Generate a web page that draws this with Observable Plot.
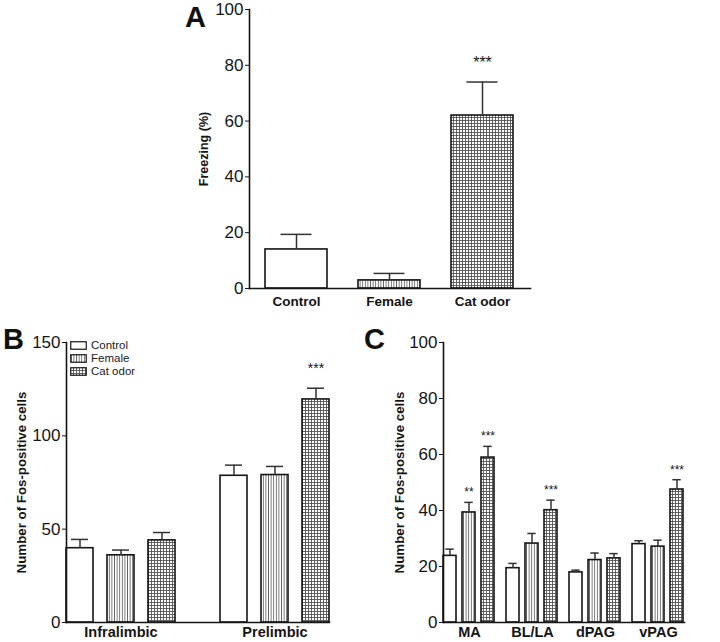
<!DOCTYPE html>
<html><head><meta charset="utf-8">
<script src="https://cdn.jsdelivr.net/npm/d3@7"></script>
<script src="https://cdn.jsdelivr.net/npm/@observablehq/plot@0.6"></script>
<style>
body{margin:0;background:#fff;}
#wrap{position:relative;width:720px;height:642px;overflow:hidden;font-family:"Liberation Sans",Arial,sans-serif;}
.panel{position:absolute;}
.legend{position:absolute;left:70px;top:339px;font-size:11.5px;color:#222;line-height:13px;}
.legend div{display:flex;align-items:center;height:13px;}
.legend svg{margin-right:4px;}
</style></head>
<body><div id="wrap">
<svg width="0" height="0" style="position:absolute"><defs>
<pattern id="vstripe" width="2.6" height="4" patternUnits="userSpaceOnUse"><rect width="2.6" height="4" fill="#fff"/><line x1="1.3" y1="0" x2="1.3" y2="4" stroke="#666" stroke-width="0.9"/></pattern>
<pattern id="grid" width="3" height="3" patternUnits="userSpaceOnUse"><rect width="3" height="3" fill="#fff"/><path d="M0 0.5H3M0.5 0V3" stroke="#555" stroke-width="0.9"/></pattern>
</defs></svg>
<div class="panel" id="pA" style="left:0;top:0"></div>
<div class="panel" id="pB" style="left:0;top:320px"></div>
<div class="panel" id="pC" style="left:360px;top:320px"></div>
<svg class="panel" width="720" height="642" style="left:0;top:0;pointer-events:none">
<g font-family="Liberation Sans, Arial, sans-serif" font-weight="bold" font-size="29" fill="#111">
<text x="185" y="27">A</text><text x="3" y="349">B</text><text x="364" y="349">C</text></g></svg>
<div class="legend" id="legend"></div>
</div>
<script>
// ---- data ----
const groups = ["Control", "Female", "Cat odor"];
const groupFills = ["#ffffff", "url(#vstripe)", "url(#grid)"];

// Panel A: freezing (%)
const freezeMean = [14.0, 2.9, 62.0];
const freezeSem = [5.4, 2.5, 12.0];
const freezeStars = ["", "", "***"];
const ticksA = [0, 20, 40, 60, 80, 100];

// Panel B: prefrontal Fos
const regionsB = ["Infralimbic", "Prelimbic"];
const bControl = [39.8, 78.6];
const bControlSem = [4.7, 5.7];
const bFemale = [36.0, 79.0];
const bFemaleSem = [2.8, 4.6];
const bCat = [44.0, 119.5];
const bCatSem = [4.2, 6.0];
const bStars = [["", ""], ["", ""], ["", "***"]];
const ticksB = [0, 50, 100, 150];

// Panel C: amygdala / PAG Fos
const regionsC = ["MA", "BL/LA", "dPAG", "vPAG"];
const cControl = [23.8, 19.4, 17.9, 28.0];
const cControlSem = [2.4, 1.7, 0.8, 1.2];
const cFemale = [39.3, 28.2, 22.3, 27.1];
const cFemaleSem = [3.6, 3.6, 2.5, 2.3];
const cCat = [58.9, 40.1, 22.9, 47.5];
const cCatSem = [4.0, 3.6, 1.7, 3.5];
const cStars = [["", "", "", ""], ["**", "", "", ""], ["***", "***", "", "***"]];
const ticksC = [0, 20, 40, 60, 80, 100];

// ---- tables ----
const rowsA = groups.map((g, i) => ({group: g, mean: freezeMean[i], top: freezeMean[i] + freezeSem[i], star: freezeStars[i]}));
function grouped(regions, means, sems, stars) {
  return regions.flatMap((r, i) => groups.map((g, j) => ({region: r, group: g, mean: means[j][i], top: means[j][i] + sems[j][i], star: stars[j][i]})));
}
const rowsB = grouped(regionsB, [bControl, bFemale, bCat], [bControlSem, bFemaleSem, bCatSem], bStars);
const rowsC = grouped(regionsC, [cControl, cFemale, cCat], [cControlSem, cFemaleSem, cCatSem], cStars);

const FONT = "'Liberation Sans', Arial, sans-serif";
const INK = "#151515";
const baseStyle = {fontFamily: FONT, fontSize: "17px", color: INK, background: "transparent", overflow: "visible"};

// ---- Panel A ----
const plotA = Plot.plot({
  width: 560, height: 320,
  marginLeft: 249, marginRight: 30, marginTop: 9, marginBottom: 32,
  style: baseStyle,
  x: {domain: groups, paddingInner: 0.333, paddingOuter: 0.17, axis: null},
  y: {domain: [0, 100]},
  color: {domain: groups, range: groupFills},
  marks: [
    Plot.barY(rowsA, {x: "group", y: "mean", fill: "group", stroke: INK, strokeWidth: 1.6}),
    Plot.ruleX(rowsA, {x: "group", y1: "mean", y2: "top", stroke: "#333", strokeWidth: 1.5}),
    Plot.tickY(rowsA, {x: "group", y: "top", insetLeft: 15.5, insetRight: 15.5, stroke: "#333", strokeWidth: 1.5}),
    Plot.text(rowsA.filter(d => d.star), {x: "group", y: "top", text: "star", dy: -19, fontSize: 16, lineAnchor: "middle"}),
    Plot.frame({anchor: "left", stroke: INK, strokeWidth: 1.6}),
    Plot.frame({anchor: "bottom", stroke: INK, strokeWidth: 1.6}),
    Plot.axisY({ticks: ticksA, tickSize: 4, tickPadding: 2, label: null, fontSize: 17}),
    Plot.axisX({anchor: "bottom", tickSize: 0, tickPadding: 8, fontSize: 13.5, fontWeight: "bold", label: null}),
    Plot.text(["Freezing (%)"], {frameAnchor: "left", rotate: -90, dx: -46, textAnchor: "middle", lineAnchor: "middle", fontSize: 12.5, fontWeight: "bold"})
  ]
});
document.getElementById("pA").append(plotA);

// ---- Panel B ----
const plotB = Plot.plot({
  width: 360, height: 322,
  marginLeft: 62, marginRight: 17, marginTop: 22, marginBottom: 20,
  style: baseStyle,
  fx: {domain: regionsB, paddingInner: 0.29, paddingOuter: 0.052, align: 0.2, label: null, axis: null},
  x: {domain: groups, paddingInner: 0.35, paddingOuter: 0, axis: null},
  y: {domain: [0, 150]},
  color: {domain: groups, range: groupFills},
  marks: [
    Plot.barY(rowsB, {fx: "region", x: "group", y: "mean", fill: "group", stroke: INK, strokeWidth: 1.6}),
    Plot.ruleX(rowsB, {fx: "region", x: "group", y1: "mean", y2: "top", stroke: "#333", strokeWidth: 1.5}),
    Plot.tickY(rowsB, {fx: "region", x: "group", y: "top", insetLeft: 5, insetRight: 5, stroke: "#333", strokeWidth: 1.5}),
    Plot.text(rowsB.filter(d => d.star), {fx: "region", x: "group", y: "top", text: "star", dy: -20, fontSize: 14, lineAnchor: "middle"}),
    Plot.frame({facet: "super", anchor: "left", stroke: INK, strokeWidth: 1.6}),
    Plot.frame({facet: "super", anchor: "bottom", stroke: INK, strokeWidth: 1.6}),
    Plot.axisY({ticks: ticksB, tickSize: 4, tickPadding: 2, label: null, fontSize: 17}),
    Plot.axisFx({anchor: "bottom", tickSize: 0, tickPadding: 4, fontSize: 14.5, fontWeight: "bold", label: null}),
    Plot.text(["Number of Fos-positive cells"], {facet: "super", frameAnchor: "left", rotate: -90, dx: -45, textAnchor: "middle", lineAnchor: "middle", fontSize: 13.3, fontWeight: "bold"})
  ]
});
document.getElementById("pB").append(plotB);

// ---- Panel C ----
const plotC = Plot.plot({
  width: 360, height: 322,
  marginLeft: 77, marginRight: 0, marginTop: 22, marginBottom: 20,
  style: baseStyle,
  fx: {domain: regionsC, paddingInner: 0.17, paddingOuter: 0.32, align: 0.15, label: null, axis: null},
  x: {domain: groups, paddingInner: 0.31, paddingOuter: 0, axis: null},
  y: {domain: [0, 100]},
  color: {domain: groups, range: groupFills},
  marks: [
    Plot.barY(rowsC, {fx: "region", x: "group", y: "mean", fill: "group", stroke: INK, strokeWidth: 1.6}),
    Plot.ruleX(rowsC, {fx: "region", x: "group", y1: "mean", y2: "top", stroke: "#333", strokeWidth: 1.5}),
    Plot.tickY(rowsC, {fx: "region", x: "group", y: "top", insetLeft: 2.3, insetRight: 2.3, stroke: "#333", strokeWidth: 1.5}),
    Plot.text(rowsC.filter(d => d.star), {fx: "region", x: "group", y: "top", text: "star", dy: -10, fontSize: 12, lineAnchor: "middle"}),
    Plot.frame({facet: "super", anchor: "left", stroke: INK, strokeWidth: 1.6}),
    Plot.frame({facet: "super", anchor: "bottom", stroke: INK, strokeWidth: 1.6}),
    Plot.axisY({ticks: ticksC, tickSize: 4, tickPadding: 2, label: null, fontSize: 17}),
    Plot.axisFx({anchor: "bottom", tickSize: 0, tickPadding: 4, fontSize: 14.5, fontWeight: "bold", label: null}),
    Plot.text(["Number of Fos-positive cells"], {facet: "super", frameAnchor: "left", rotate: -90, dx: -44, textAnchor: "middle", lineAnchor: "middle", fontSize: 13.3, fontWeight: "bold"})
  ]
});
document.getElementById("pC").append(plotC);

// ---- legend (panel B) ----
const leg = document.getElementById("legend");
groups.forEach((g, i) => {
  const row = document.createElement("div");
  row.innerHTML = `<svg width="17" height="9"><rect x="0.75" y="0.75" width="15.5" height="7.5" fill="${groupFills[i]}" stroke="${INK}" stroke-width="1.2"/></svg><span>${g}</span>`;
  leg.append(row);
});
</script>
</body></html>
